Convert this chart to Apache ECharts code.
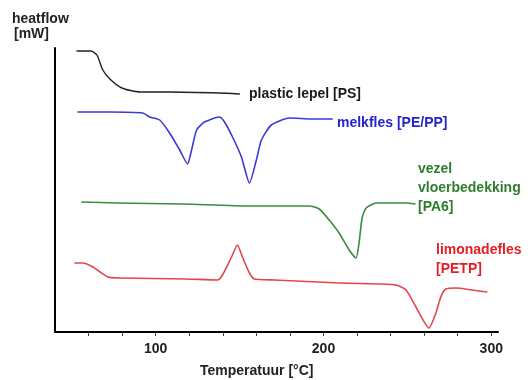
<!DOCTYPE html>
<html>
<head>
<meta charset="utf-8">
<script src="https://cdn.jsdelivr.net/npm/echarts@6/dist/echarts.min.js"></script>
<style>
html,body{margin:0;padding:0;background:#fff;}
#c{width:531px;height:380px;}
</style>
</head>
<body>
<div id="c"></div>
<script>
// Temperature (°C) and heatflow (arbitrary units, offset per curve)
const psTemp   = [53.1, 61.4, 65.0, 68.5, 72.7, 79.8, 90.5, 108.3, 138.0, 149.9];
const psFlow   = [281, 281, 277, 262, 253, 244, 240, 240, 239, 238];

const pePpTemp = [53.7, 72.7, 92.3, 96.4, 102.4, 108.3, 114.3, 119.0, 121.4, 124.4, 129.1, 138.0, 141.0, 145.8, 151.1, 155.9, 160.0, 163.0, 168.9, 179.6, 193.3, 205.2];
const pePpFlow = [220, 220, 219, 215, 212, 199, 182, 168, 182, 202, 210, 215, 210, 195, 175, 149, 172, 192, 207, 214, 213, 213];

const pa6Temp  = [56.0, 76.8, 116.1, 155.9, 191.5, 197.5, 203.4, 209.3, 215.3, 219.4, 221.2, 223.0, 225.4, 231.3, 249.2, 254.5];
const pa6Flow  = [130, 129, 128, 126, 126, 123, 112, 99, 82, 74, 89, 114, 124, 129, 129, 128];

const petpTemp = [51.9, 56.6, 62.6, 71.5, 78.6, 118.4, 136.9, 139.8, 145.2, 148.7, 151.7, 155.9, 158.8, 170.7, 209.3, 233.1, 243.2, 249.2, 255.1, 262.8, 267.0, 269.9, 272.9, 278.9, 288.4, 297.3];
const petpFlow = [69, 69, 65, 55, 54, 53, 52, 57, 75, 87, 75, 59, 53, 52, 49, 48, 47, 42, 25, 4, 19, 35, 43, 44, 42, 40];

const tickValues  = [60, 80, 100, 120, 140, 160, 180, 200, 220, 240, 260, 280, 300];
const labelValues = [100, 200, 300];

const zip = (a, b) => a.map((v, i) => [v, b[i]]);

const chart = echarts.init(document.getElementById('c'));
const font14 = 'bold 14px "Liberation Sans", Arial, sans-serif';

function mkLine(name, t, v, color, w) {
  return {
    name, type: 'line', data: zip(t, v), showSymbol: false, symbol: 'none',
    smooth: 0.2,
    lineStyle: { color, width: w, join: 'round', cap: 'round' }, animation: false
  };
}

function txt(text, x, y, color) {
  return {
    type: 'text', left: x, top: y,
    style: { text, font: font14, fill: color, textVerticalAlign: 'top' }
  };
}

chart.setOption({
  animation: false,
  backgroundColor: '#ffffff',
  grid: { left: 55, right: 33, top: 48, bottom: 48 },
  xAxis: {
    type: 'value', min: 40, max: 304,
    axisLine: { show: true, lineStyle: { color: '#000', width: 2 } },
    axisTick: { show: true, customValues: tickValues, length: 4, lineStyle: { color: '#444', width: 1 } },
    axisLabel: { show: true, customValues: labelValues, margin: 10, color: '#222', fontSize: 14, fontWeight: 'bold', fontFamily: '"Liberation Sans", Arial, sans-serif' },
    splitLine: { show: false }
  },
  yAxis: {
    type: 'value', min: 0, max: 284,
    axisLine: { show: true, lineStyle: { color: '#000', width: 2 } },
    axisTick: { show: false }, axisLabel: { show: false }, splitLine: { show: false }
  },
  series: [
    mkLine('PS', psTemp, psFlow, '#222222', 1.4),
    mkLine('PE/PP', pePpTemp, pePpFlow, '#3a3ad6', 1.6),
    mkLine('PA6', pa6Temp, pa6Flow, '#3d8b3d', 1.6),
    mkLine('PETP', petpTemp, petpFlow, '#e0474a', 1.6)
  ],
  graphic: [
    txt('heatflow', 12, 12, '#222'),
    txt('[mW]', 14, 27, '#222'),
    txt('Temperatuur [°C]', 200, 364, '#222'),
    txt('plastic lepel [PS]', 249, 87, '#1a1a1a'),
    txt('melkfles [PE/PP]', 337, 116, '#2323d2'),
    txt('vezel', 418, 162, '#2e7d2e'),
    txt('vloerbedekking', 418, 181, '#2e7d2e'),
    txt('[PA6]', 418, 200, '#2e7d2e'),
    txt('limonadefles', 436, 243, '#e41e24'),
    txt('[PETP]', 436, 262, '#e41e24')
  ]
});
</script>
</body>
</html>
